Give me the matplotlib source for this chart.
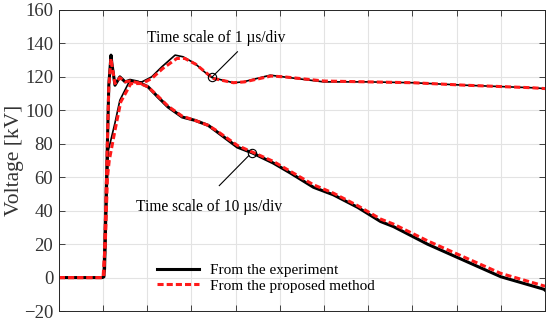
import numpy as np
import matplotlib.pyplot as plt

plt.rcParams['font.family'] = ['Liberation Serif', 'DejaVu Serif']

# time axis in divisions (11 divisions across the screen)
t_fast = [0, 1.0, 1.05, 1.09, 1.12, 1.27, 1.38, 1.59, 1.88, 2.1, 2.33, 2.63, 2.81, 3.08,
          3.38, 3.47, 3.95, 4.17, 4.78, 5.08, 5.99, 6.98, 8.0, 9.2, 10.7, 11.0]
v_fast_exp = [0, 0, 5, 50, 76, 92.5, 106, 117, 117, 120, 126, 133, 132, 128,
              121, 119.5, 116.5, 117, 121, 120, 117, 117, 116.5, 115, 113.5, 113]
t_fast_sim = [0, 1.0, 1.05, 1.1, 1.14, 1.27, 1.4, 1.63, 1.88, 2.1, 2.35, 2.67, 2.85, 3.1,
              3.4, 3.5, 3.95, 4.2, 4.8, 5.1, 6.0, 7.0, 8.0, 9.2, 10.7, 11.0]
v_fast_sim = [0, 0, 20, 60, 70, 88, 105, 116, 116, 119, 125, 131, 131, 127.5,
              121, 119, 116.5, 117, 120.5, 120, 117.5, 117, 116.5, 115, 113.5, 113]

t_slow = [0, 0.98, 1.02, 1.08, 1.13, 1.18, 1.2, 1.27, 1.38, 1.5, 1.61, 1.79, 2.02, 2.24,
          2.47, 2.79, 3.08, 3.38, 3.56, 4.04, 4.38, 4.85, 5.24, 5.76, 6.21, 6.76, 7.28,
          7.57, 8.34, 9.02, 10.0, 10.98, 11.0]
v_slow_exp = [0, 0, 0.5, 60, 115, 133, 128, 115, 120, 117, 118, 117, 114, 108,
              102, 96, 94, 91, 87.5, 78, 74.5, 68.5, 62.5, 54, 49.5, 42, 33.5,
              30.5, 20, 12, 0.5, -7, -7.5]
v_slow_sim = [0, 0, 1, 62, 114, 131, 127, 116, 119.5, 117, 117.5, 116.5, 114, 108.5,
              102.5, 96.5, 94, 91, 88, 79, 75, 69.5, 63.5, 55.5, 50.5, 43, 35,
              32, 22, 14, 2.5, -5, -5.5]

fig = plt.figure(figsize=(5.5, 3.21), dpi=100)
ax = fig.add_axes([0.107, 0.031, 0.884, 0.938])

ax.plot(t_slow, v_slow_exp, color='black', lw=2.2, label='From the experiment')
ax.plot(t_fast, v_fast_exp, color='black', lw=1.2)
ax.plot(t_slow, v_slow_sim, color='#ff1a1a', lw=2.2, ls='--', dashes=(2, 1),
        label='From the proposed method')
ax.plot(t_fast_sim, v_fast_sim, color='#ff1a1a', lw=2.2, ls='--', dashes=(2, 1))

# annotations
ax.plot(3.47, 120, 'o', mfc='none', mec='black', ms=6, mew=0.8)
ax.plot([3.47, 4.04], [120, 135], color='black', lw=0.8)
ax.text(2.0, 143.3, 'Time scale of 1 \u00b5s/div', fontsize=11.2, va='center')
ax.plot(4.38, 74.6, 'o', mfc='none', mec='black', ms=6, mew=0.8)
ax.plot([3.63, 4.3], [55, 73], color='black', lw=0.8)
ax.text(1.75, 42.4, 'Time scale of 10 \u00b5s/div', fontsize=11.2, va='center')

ax.set_xlim(0, 11)
ax.set_ylim(-20, 160)
ax.set_xticks(np.arange(0, 12, 1))
ax.set_xticklabels([])
ax.set_yticks(np.arange(-20, 161, 20))
ax.grid(True, color='#e3e3e3', lw=0.8)
ax.tick_params(direction='in', length=4, width=0.6, top=True, right=True,
               labelsize=13.5, colors='#262626', labelcolor='#333333', pad=4)
for s in ax.spines.values():
    s.set_color('#262626')
    s.set_linewidth(0.7)
ax.set_ylabel('Voltage [kV]', fontsize=15.5, color='#333333', labelpad=0)

leg = ax.legend(loc='lower left', bbox_to_anchor=(0.187, 0.036), frameon=False,
                borderpad=0, fontsize=11, handlelength=2.75, handletextpad=0.7,
                labelspacing=0.1)

fig.savefig('out.png', dpi=100)
